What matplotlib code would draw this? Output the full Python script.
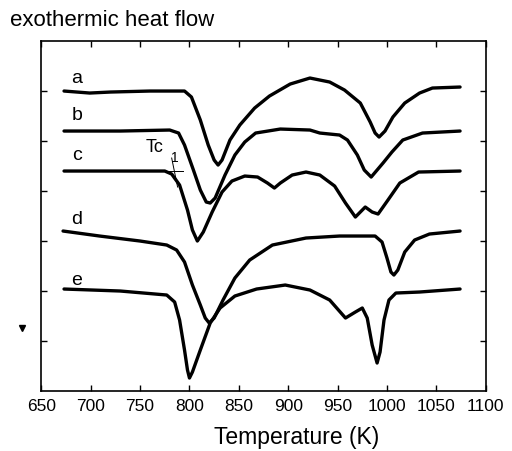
import matplotlib
matplotlib.use("Agg")
import matplotlib.pyplot as plt

plt.rcParams['font.family'] = ['Liberation Sans', 'DejaVu Sans']

# DSC traces (temperature in K, stacked heat flow in arbitrary units)
t_a = [673, 699, 720, 760, 795, 802, 811, 819, 825, 829, 833, 841, 851, 866, 881, 902, 922, 942, 957, 973, 983, 988, 992, 998, 1006, 1018, 1033, 1046, 1074]
y_a = [6.00, 5.96, 5.98, 6.00, 6.00, 5.88, 5.42, 4.92, 4.62, 4.52, 4.62, 5.02, 5.32, 5.66, 5.90, 6.14, 6.26, 6.18, 6.02, 5.76, 5.38, 5.16, 5.08, 5.20, 5.48, 5.76, 5.96, 6.06, 6.08]

t_b = [673, 730, 780, 789, 795, 804, 811, 817, 821, 826, 836, 846, 856, 867, 892, 922, 932, 952, 960, 970, 977, 984, 990, 996, 1005, 1016, 1036, 1074]
y_b = [5.20, 5.20, 5.22, 5.16, 4.92, 4.42, 4.02, 3.78, 3.76, 3.86, 4.32, 4.72, 4.98, 5.16, 5.24, 5.22, 5.16, 5.12, 5.02, 4.72, 4.42, 4.28, 4.42, 4.56, 4.78, 5.02, 5.16, 5.20]

t_c = [673, 730, 775, 782, 790, 798, 803, 808, 814, 823, 833, 843, 856, 869, 879, 886, 892, 904, 918, 932, 947, 958, 968, 978, 985, 991, 1001, 1013, 1032, 1074]
y_c = [4.40, 4.40, 4.40, 4.34, 4.12, 3.62, 3.22, 3.00, 3.18, 3.58, 3.98, 4.20, 4.30, 4.28, 4.16, 4.06, 4.16, 4.32, 4.38, 4.32, 4.10, 3.76, 3.48, 3.68, 3.58, 3.54, 3.82, 4.16, 4.38, 4.40]

t_d = [672, 709, 750, 777, 787, 795, 803, 811, 816, 820, 825, 834, 846, 861, 884, 918, 952, 988, 995, 1000, 1004, 1007, 1011, 1018, 1028, 1043, 1074]
y_d = [3.20, 3.10, 3.00, 2.92, 2.82, 2.58, 2.12, 1.72, 1.46, 1.36, 1.46, 1.82, 2.26, 2.62, 2.92, 3.06, 3.10, 3.10, 2.98, 2.66, 2.38, 2.32, 2.42, 2.78, 3.02, 3.14, 3.20]

t_e = [673, 730, 777, 785, 790, 795, 798, 800, 803, 811, 821, 831, 846, 868, 897, 922, 942, 958, 968, 975, 980, 985, 990, 993, 997, 1002, 1009, 1033, 1074]
y_e = [2.04, 2.00, 1.92, 1.78, 1.42, 0.82, 0.42, 0.26, 0.38, 0.82, 1.36, 1.66, 1.90, 2.04, 2.12, 2.02, 1.82, 1.46, 1.58, 1.66, 1.46, 0.92, 0.56, 0.78, 1.42, 1.82, 1.96, 1.98, 2.04]

labels = ['a', 'b', 'c', 'd', 'e']
label_y = [6.2, 5.46, 4.66, 3.38, 2.16]
xticks = [650, 700, 750, 800, 850, 900, 950, 1000, 1050, 1100]

fig = plt.figure(figsize=(5.12, 4.51), dpi=100)
ax = fig.add_axes([0.0807, 0.133, 0.868, 0.776])

for t, y in [(t_a, y_a), (t_b, y_b), (t_c, y_c), (t_d, y_d), (t_e, y_e)]:
    ax.plot(t, y, color='black', lw=2.4, solid_joinstyle='round', solid_capstyle='round')

for lab, ly in zip(labels, label_y):
    ax.text(686, ly + 0.06, lab, fontsize=14, ha='center', va='center')

# Tc1 onset construction
ax.plot([772, 793], [4.40, 4.40], color='black', lw=0.7)
ax.plot([782, 788], [4.66, 4.08], color='black', lw=0.7)
ax.text(756, 4.70, 'Tc', fontsize=13, ha='left', va='bottom')
ax.text(781, 4.52, '1', fontsize=10, ha='left', va='bottom')

ax.set_xlim(650, 1100)
ax.set_ylim(0, 7)
ax.set_xticks(xticks)
ax.set_yticks([1, 2, 3, 4, 5, 6])
ax.set_yticklabels([])
ax.tick_params(direction='in', top=True, right=True, length=4, width=1, labelsize=12.5)
ax.tick_params(axis='x', pad=6)
for s in ax.spines.values():
    s.set_linewidth(1.2)
ax.set_xlabel('Temperature (K)', fontsize=16.5, labelpad=6)
ax.xaxis.set_label_coords(0.575, -0.1)

fig.text(0.02, 0.955, 'exothermic heat flow', fontsize=16, ha='left', va='center')
ax.plot([22 / 512], [1 - 328 / 451], marker='v', color='black', ms=5,
        transform=fig.transFigure, clip_on=False)

fig.savefig('out.png', dpi=100)
